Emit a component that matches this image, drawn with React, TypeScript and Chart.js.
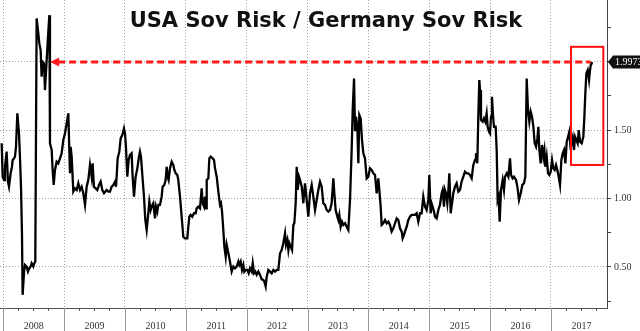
import React, { useEffect, useRef } from 'react';
import { Chart, registerables } from 'chart.js';

Chart.register(...registerables);

// Observation dates (decimal years) and USA/Germany sovereign CDS ratio values
const observationDates = [
  2007.973,2007.990,2008.012,2008.028,2008.055,2008.077,2008.094,2008.121,2008.143,2008.154,2008.176,2008.192,2008.209,2008.231,2008.258,2008.274,2008.291,2008.307,2008.318,2008.340,2008.357,2008.384,2008.406,2008.428,2008.450,2008.466,2008.494,2008.510,2008.526,2008.548,2008.576,2008.592,2008.614,2008.630,2008.647,2008.669,2008.685,2008.713,2008.735,2008.757,2008.767,2008.795,2008.811,2008.828,2008.850,2008.877,2008.904,2008.932,2008.959,2008.987,2009.014,2009.041,2009.069,2009.085,2009.096,2009.107,2009.124,2009.151,2009.178,2009.206,2009.233,2009.261,2009.288,2009.315,2009.343,2009.370,2009.397,2009.425,2009.452,2009.468,2009.490,2009.518,2009.545,2009.573,2009.600,2009.627,2009.655,
  2009.699,2009.726,2009.753,2009.781,2009.808,2009.836,2009.852,2009.863,2009.879,2009.907,2009.929,2009.956,2009.983,2010.000,2010.016,2010.038,2010.060,2010.082,2010.109,2010.126,2010.148,2010.175,2010.203,2010.230,2010.246,2010.263,2010.285,2010.312,2010.334,2010.356,2010.383,2010.400,2010.422,2010.438,2010.465,2010.493,2010.509,2010.531,2010.548,2010.575,2010.602,2010.619,2010.646,2010.668,2010.685,2010.701,2010.717,2010.739,2010.767,2010.794,2010.811,2010.833,2010.860,2010.876,2010.904,2010.931,2010.958,2010.986,2011.024,2011.041,2011.057,2011.079,2011.106,2011.134,2011.161,2011.178,2011.205,2011.232,2011.260,2011.276,
  2011.299,2011.315,2011.332,2011.343,2011.370,2011.386,2011.408,2011.441,2011.463,2011.480,2011.507,2011.534,2011.562,2011.578,2011.595,2011.616,2011.633,2011.655,2011.671,2011.699,2011.726,2011.753,2011.781,2011.808,2011.836,2011.863,2011.879,2011.901,2011.923,2011.945,2011.962,2011.983,2012.011,2012.033,2012.055,2012.082,2012.099,2012.120,2012.142,2012.164,2012.192,2012.219,2012.246,2012.274,2012.290,2012.312,2012.329,2012.356,2012.383,2012.411,2012.438,2012.466,2012.493,2012.520,2012.548,2012.575,2012.602,2012.630,2012.646,2012.668,2012.685,2012.701,2012.723,2012.745,2012.767,2012.783,2012.805,2012.822,2012.838,2012.860,2012.877,2012.904,2012.931,
  2012.958,2012.986,2013.013,2013.040,2013.068,2013.095,2013.123,2013.150,2013.177,2013.205,2013.232,2013.259,2013.287,2013.314,2013.342,2013.369,2013.396,2013.424,2013.440,2013.462,2013.490,2013.506,2013.522,2013.544,2013.566,2013.588,2013.616,2013.643,2013.670,2013.698,2013.725,2013.742,2013.764,2013.780,2013.796,2013.818,2013.835,2013.851,2013.873,2013.895,2013.917,2013.944,2013.972,2013.999,2014.026,2014.054,2014.081,2014.109,2014.136,2014.163,2014.180,2014.202,2014.218,2014.245,2014.273,2014.300,2014.328,2014.355,2014.382,2014.410,2014.437,2014.465,2014.492,2014.519,2014.547,2014.563,2014.585,
  2014.601,2014.629,2014.656,2014.683,2014.711,2014.738,2014.766,2014.793,2014.820,2014.848,2014.875,2014.902,2014.930,2014.957,2014.985,2015.001,2015.023,2015.039,2015.056,2015.078,2015.094,2015.122,2015.149,2015.176,2015.204,2015.220,2015.242,2015.258,2015.275,2015.297,2015.313,2015.330,2015.352,2015.374,2015.395,2015.423,2015.450,2015.478,2015.505,2015.532,2015.560,2015.587,2015.615,2015.642,2015.669,2015.697,2015.724,2015.752,2015.768,2015.790,2015.806,2015.823,2015.834,2015.850,2015.878,2015.899,2015.921,2015.943,2015.960,2015.982,2015.998,2016.015,2016.031,2016.047,2016.064,2016.091,2016.108,2016.124,2016.140,2016.157,2016.179,2016.206,2016.228,
  2016.245,2016.273,2016.300,2016.327,2016.344,2016.371,2016.393,2016.426,2016.448,2016.475,2016.503,2016.530,2016.557,2016.579,2016.601,2016.623,2016.645,2016.667,2016.689,2016.711,2016.733,2016.755,2016.777,2016.793,2016.809,2016.831,2016.853,2016.875,2016.892,2016.908,2016.930,2016.952,2016.974,2016.996,2017.018,2017.039,2017.061,2017.083,2017.105,2017.127,2017.149,2017.171,2017.193,2017.215,2017.237,2017.259,2017.281,2017.302,2017.324,2017.341,2017.357,2017.379,2017.396,2017.417,2017.439,2017.456,2017.478,2017.505,2017.532,2017.549,2017.565,2017.582,2017.604,2017.626,2017.642,2017.659,2017.670,
];

const ratioValues = [
  1.403,1.159,1.135,1.232,1.342,1.123,1.086,1.184,1.232,1.281,1.293,1.305,1.378,1.622,1.476,1.305,1.086,0.746,0.296,0.454,0.515,0.503,0.466,0.491,0.503,0.527,0.503,0.527,0.539,2.315,2.206,2.133,2.084,1.889,1.999,1.987,1.792,2.011,2.181,2.339,1.403,1.354,1.208,1.099,1.208,1.269,1.257,1.293,1.330,1.427,1.476,1.549,1.622,1.354,1.184,1.378,1.305,1.050,1.074,1.062,1.111,1.062,1.086,1.038,0.953,1.086,1.135,1.245,1.159,1.257,1.086,1.074,1.062,1.099,1.123,1.062,1.038,
  1.062,1.050,1.050,1.086,1.099,1.123,1.086,1.159,1.293,1.342,1.439,1.464,1.512,1.476,1.378,1.159,1.281,1.318,1.330,1.159,1.013,1.159,1.220,1.305,1.342,1.305,1.171,1.013,0.843,0.770,0.892,0.977,0.916,0.940,0.965,0.855,0.940,0.904,0.953,0.953,1.013,1.086,1.099,1.135,1.232,1.159,1.135,1.220,1.269,1.245,1.208,1.184,1.171,1.135,1.013,0.867,0.721,0.709,0.709,0.794,0.867,0.880,0.867,0.892,0.892,0.928,0.940,0.928,1.074,0.965,
  0.940,1.013,0.928,1.135,1.147,1.293,1.305,1.293,1.281,1.220,1.159,1.050,0.953,0.965,0.904,0.770,0.648,0.575,0.661,0.600,0.539,0.466,0.503,0.490,0.503,0.539,0.515,0.539,0.478,0.515,0.466,0.478,0.478,0.454,0.490,0.466,0.527,0.454,0.466,0.442,0.466,0.442,0.410,0.405,0.393,0.357,0.429,0.478,0.466,0.454,0.478,0.466,0.478,0.478,0.600,0.624,0.673,0.746,0.661,0.697,0.624,0.673,0.648,0.624,0.807,0.819,0.965,1.232,1.062,1.159,1.135,1.086,0.965,
  1.111,0.989,0.867,1.038,1.099,1.013,0.916,0.989,1.062,1.123,1.086,0.965,0.953,0.916,0.904,0.916,0.965,1.147,1.038,0.916,0.867,0.843,0.880,0.794,0.831,0.807,0.819,0.794,0.770,0.989,1.354,1.646,1.877,1.500,1.597,1.524,1.257,1.610,1.585,1.427,1.330,1.293,1.147,1.159,1.220,1.208,1.184,1.172,1.038,1.147,1.062,0.940,0.807,0.819,0.843,0.819,0.831,0.807,0.758,0.782,0.819,0.855,0.843,0.782,0.758,0.709,0.734,
  0.758,0.794,0.843,0.867,0.880,0.880,0.880,0.892,0.831,0.892,0.892,1.013,0.940,0.916,0.989,1.172,0.892,0.965,0.940,0.904,0.867,0.855,0.916,0.953,1.038,1.062,0.940,1.062,1.038,0.965,1.050,1.184,0.892,0.965,1.038,1.086,1.111,1.050,1.062,1.123,1.159,1.196,1.184,1.184,1.172,1.147,1.245,1.281,1.330,1.257,1.597,1.865,1.792,1.573,1.561,1.585,1.561,1.622,1.524,1.488,1.476,1.597,1.743,1.610,1.524,1.524,1.354,0.989,1.013,0.831,1.062,1.135,1.062,
  1.159,1.184,1.159,1.293,1.172,1.147,1.159,1.135,1.086,0.989,1.038,1.099,1.111,1.159,1.877,1.646,1.561,1.634,1.597,1.524,1.403,1.378,1.439,1.524,1.354,1.257,1.391,1.305,1.354,1.232,1.305,1.184,1.172,1.196,1.281,1.220,1.208,1.245,1.208,1.159,1.099,1.281,1.330,1.354,1.257,1.415,1.451,1.488,1.354,1.427,1.451,1.354,1.451,1.427,1.403,1.500,1.415,1.403,1.451,1.597,1.768,1.914,1.938,1.865,1.938,1.987,1.9973,
];

const yearLabels = ['2008', '2009', '2010', '2011', '2012', '2013', '2014', '2015', '2016', '2017'];
const yTickValues = [0.25, 0.5, 0.75, 1.0, 1.25, 1.5, 1.75, 2.0, 2.25];
const yLabelledTicks = [0.5, 1.0, 1.5];
const lastValueLabel = '1.9973';
const titleText = 'USA Sov Risk / Germany Sov Risk';
const arrowStartYear = 2008.77;
const highlightYears = [2017.33, 2017.86];
const highlightValues = [1.245, 2.108];
const xRange = [2007.946, 2017.921];
const yRange = [0.2, 2.45];

const isYearStart = (v: number) => Math.abs(v - Math.round(v)) < 1e-6;
const isMidYear = (v: number) => Math.abs(v - Math.floor(v) - 0.5) < 1e-6;

const decorations = {
  id: 'decorations',
  afterDatasetsDraw(chart: any) {
    const { ctx, scales } = chart;
    const x = scales.x;
    const y = scales.y;
    const lastIdx = ratioValues.length - 1;
    ctx.save();
    // highlight rectangle
    const rx1 = x.getPixelForValue(highlightYears[0]);
    const rx2 = x.getPixelForValue(highlightYears[1]);
    const ry1 = y.getPixelForValue(highlightValues[1]);
    const ry2 = y.getPixelForValue(highlightValues[0]);
    ctx.strokeStyle = '#ff1010';
    ctx.lineWidth = 2;
    ctx.strokeRect(rx1, ry1, rx2 - rx1, ry2 - ry1);
    // dashed arrow
    const ay = Math.round(y.getPixelForValue(ratioValues[lastIdx]));
    const ax0 = x.getPixelForValue(arrowStartYear);
    const ax1 = x.getPixelForValue(observationDates[lastIdx]) - 1;
    ctx.strokeStyle = '#ff1a1a';
    ctx.lineWidth = 3;
    ctx.setLineDash([7, 4]);
    ctx.beginPath();
    ctx.moveTo(ax0 + 8, ay);
    ctx.lineTo(ax1, ay);
    ctx.stroke();
    ctx.setLineDash([]);
    ctx.fillStyle = '#ff1a1a';
    ctx.beginPath();
    ctx.moveTo(ax0, ay);
    ctx.lineTo(ax0 + 9, ay - 4.5);
    ctx.lineTo(ax0 + 9, ay + 4.5);
    ctx.closePath();
    ctx.fill();
    ctx.restore();
  },
  afterDraw(chart: any) {
    const { ctx, chartArea, scales, width, height } = chart;
    const x = scales.x;
    const y = scales.y;
    ctx.save();
    // year separators below the axis
    ctx.strokeStyle = '#9a9a9a';
    ctx.lineWidth = 1;
    yearLabels.forEach((lab) => {
      const px = Math.round(x.getPixelForValue(Number(lab))) + 0.5;
      ctx.beginPath();
      ctx.moveTo(px, chartArea.bottom);
      ctx.lineTo(px, height);
      ctx.stroke();
    });
    // title
    ctx.fillStyle = '#111';
    ctx.font = 'bold 21px "DejaVu Sans"';
    ctx.textAlign = 'center';
    ctx.textBaseline = 'alphabetic';
    ctx.fillText(titleText, 326, 27);
    // last value callout
    const cy = Math.round(y.getPixelForValue(ratioValues[ratioValues.length - 1]));
    const cx = chartArea.right;
    ctx.fillStyle = '#111';
    ctx.beginPath();
    ctx.moveTo(cx + 1, cy);
    ctx.lineTo(cx + 6, cy - 6.5);
    ctx.lineTo(width, cy - 6.5);
    ctx.lineTo(width, cy + 6.5);
    ctx.lineTo(cx + 6, cy + 6.5);
    ctx.closePath();
    ctx.fill();
    ctx.fillStyle = '#fff';
    ctx.font = '10px "Liberation Serif"';
    ctx.textAlign = 'left';
    ctx.textBaseline = 'middle';
    ctx.fillText(lastValueLabel, cx + 8, cy + 0.5);
    ctx.restore();
  },
};

export default function App() {
  const canvasRef = useRef<HTMLCanvasElement | null>(null);

  useEffect(() => {
    document.body.style.margin = '0';
    const canvas = canvasRef.current;
    if (!canvas) return;
    const points = observationDates.map((t, i) => ({ x: t, y: ratioValues[i] }));
    const quarterTicks: number[] = [];
    yearLabels.forEach((lab) => {
      const yr = Number(lab);
      [0, 0.25, 0.5, 0.75].forEach((q) => quarterTicks.push(yr + q));
    });

    const chart = new Chart(canvas, {
      type: 'line',
      data: {
        datasets: [
          {
            data: points,
            borderColor: '#000',
            borderWidth: 2.3,
            pointRadius: 0,
            tension: 0,
            fill: false,
          },
        ],
      },
      options: {
        animation: false,
        responsive: false,
        maintainAspectRatio: false,
        parsing: false as any,
        layout: { padding: 0 },
        plugins: {
          legend: { display: false },
          tooltip: { enabled: false },
          title: { display: false },
        },
        scales: {
          x: {
            type: 'linear',
            position: 'bottom',
            min: xRange[0],
            max: xRange[1],
            afterBuildTicks: (scale: any) => {
              scale.ticks = quarterTicks.map((v) => ({ value: v }));
            },
            afterFit: (scale: any) => {
              scale.height = 23;
              scale.paddingLeft = 0;
              scale.paddingRight = 0;
            },
            ticks: {
              autoSkip: false,
              maxRotation: 0,
              minRotation: 0,
              padding: 9,
              color: '#333',
              font: { family: '"Liberation Serif"', size: 10 },
              callback: (v: any) => (isMidYear(Number(v)) ? String(Math.floor(Number(v))) : ''),
            },
            grid: {
              display: true,
              drawOnChartArea: true,
              drawTicks: true,
              tickLength: 3,
              color: (ctx: any) => (ctx.tick && isYearStart(ctx.tick.value) ? '#a0a0a0' : 'rgba(0,0,0,0)'),
              tickColor: (ctx: any) => (ctx.tick && isYearStart(ctx.tick.value) ? 'rgba(0,0,0,0)' : '#555'),
            },
            border: { display: true, color: '#555', width: 1, dash: [1, 2] },
          },
          y: {
            type: 'linear',
            position: 'right',
            min: yRange[0],
            max: yRange[1],
            afterBuildTicks: (scale: any) => {
              scale.ticks = yTickValues.map((v) => ({ value: v }));
            },
            afterFit: (scale: any) => {
              scale.width = 33;
              scale.paddingTop = 0;
              scale.paddingBottom = 0;
            },
            ticks: {
              autoSkip: false,
              padding: 3,
              color: '#333',
              font: { family: '"Liberation Serif"', size: 10 },
              callback: (v: any) => (yLabelledTicks.includes(Number(v)) ? Number(v).toFixed(2) : ''),
            },
            grid: {
              display: true,
              drawOnChartArea: true,
              drawTicks: true,
              tickLength: 4,
              color: (ctx: any) =>
                ctx.tick && Math.abs(ctx.tick.value * 2 - Math.round(ctx.tick.value * 2)) < 1e-6 ? '#a0a0a0' : 'rgba(0,0,0,0)',
              tickColor: '#444',
            },
            border: { display: true, color: '#444', width: 1, dash: [1, 2] },
          },
        },
      },
      plugins: [decorations],
    });

    return () => {
      chart.destroy();
    };
  }, []);

  return (
    <div style={{ position: 'absolute', left: 0, top: 0, width: 640, height: 331, background: '#fff' }}>
      <canvas ref={canvasRef} width={640} height={331} style={{ display: 'block', width: 640, height: 331 }} />
    </div>
  );
}
